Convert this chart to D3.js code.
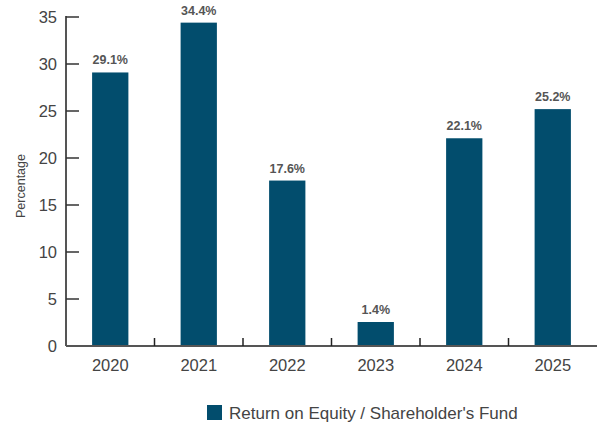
<!DOCTYPE html>
<html>
<head>
<meta charset="utf-8">
<script src="https://cdn.jsdelivr.net/npm/d3@7"></script>
<style>
  body { margin: 0; background: #fff; }
  svg { display: block; font-family: 'Liberation Sans', Arial, sans-serif; }
</style>
</head>
<body>
<div id="chart"></div>
<script>
var years = ['2020', '2021', '2022', '2023', '2024', '2025']
var roe = [29.1, 34.4, 17.6, 1.4, 22.1, 25.2]
var yTicks = [0, 5, 10, 15, 20, 25, 30, 35]
var seriesName = "Return on Equity / Shareholder's Fund"

var W = 600, H = 424
var plotLeft = 66, plotRight = 597, plotTop = 16, plotBottom = 346
var minBarH = 24  // small values still get a visible bar, like the original
var barColor = '#024d6d'
var axisColor = '#555'
var textColor = '#444'

var svg = d3.select('#chart').append('svg').attr('width', W).attr('height', H)

var x = d3.scaleBand().domain(years).range([plotLeft, plotRight]).paddingInner(0.59).paddingOuter(0.295)
var xb = d3.scaleBand().domain(years).range([plotLeft, plotRight])
var y = d3.scaleLinear().domain([0, 35]).range([plotBottom, plotBottom - 35 * 9.4])

var data = years.map((d, i) => ({year: d, val: roe[i]}))
var barTop = d => Math.min(y(d.val), y(0) - minBarH)

svg.selectAll('rect.bar').data(data).join('rect')
  .attr('class', 'bar')
  .attr('x', d => x(d.year))
  .attr('width', x.bandwidth())
  .attr('y', barTop)
  .attr('height', d => y(0) - barTop(d))
  .attr('fill', barColor)

svg.selectAll('text.val').data(data).join('text')
  .attr('class', 'val')
  .attr('x', d => x(d.year) + x.bandwidth() / 2)
  .attr('y', d => barTop(d) - 8)
  .attr('text-anchor', 'middle')
  .attr('font-size', 12.5)
  .attr('font-weight', 'bold')
  .attr('fill', '#555')
  .text(d => d.val.toFixed(1) + '%')

// y axis
var yAxis = svg.append('g')
yAxis.append('line')
  .attr('x1', plotLeft).attr('x2', plotLeft).attr('y1', plotTop).attr('y2', plotBottom)
  .attr('stroke', axisColor).attr('stroke-width', 2)
yAxis.selectAll('line.tick').data(yTicks.slice(1)).join('line')
  .attr('class', 'tick')
  .attr('x1', plotLeft).attr('x2', plotLeft + 13)
  .attr('y1', d => y(d)).attr('y2', d => y(d))
  .attr('stroke', '#333').attr('stroke-width', 1.5)
yAxis.selectAll('text').data(yTicks).join('text')
  .attr('x', 57)
  .attr('y', d => y(d) + 6)
  .attr('text-anchor', 'end')
  .attr('font-size', 16.5)
  .attr('fill', textColor)
  .text(d => d)

svg.append('text')
  .attr('transform', `translate(25, ${(plotTop + plotBottom) / 2 + 5}) rotate(-90)`)
  .attr('text-anchor', 'middle')
  .attr('font-size', 12.5)
  .attr('fill', textColor)
  .text('Percentage')

// x axis
var xAxis = svg.append('g')
xAxis.append('line')
  .attr('x1', plotLeft).attr('x2', plotRight).attr('y1', plotBottom).attr('y2', plotBottom)
  .attr('stroke', axisColor).attr('stroke-width', 2)
xAxis.selectAll('line.tick').data(years.slice(1)).join('line')
  .attr('class', 'tick')
  .attr('x1', d => xb(d)).attr('x2', d => xb(d))
  .attr('y1', plotBottom).attr('y2', plotBottom - 8)
  .attr('stroke', '#222').attr('stroke-width', 1.5)
xAxis.selectAll('text').data(years).join('text')
  .attr('x', d => xb(d) + xb.bandwidth() / 2)
  .attr('y', plotBottom + 25)
  .attr('text-anchor', 'middle')
  .attr('font-size', 16.5)
  .attr('fill', textColor)
  .text(d => d)

// legend
var lg = svg.append('g').attr('transform', 'translate(207, 405)')
lg.append('rect').attr('width', 15).attr('height', 15).attr('fill', barColor)
lg.append('text')
  .attr('x', 22).attr('y', 13.5)
  .attr('font-size', 17)
  .attr('fill', textColor)
  .text(seriesName)
</script>
</body>
</html>
